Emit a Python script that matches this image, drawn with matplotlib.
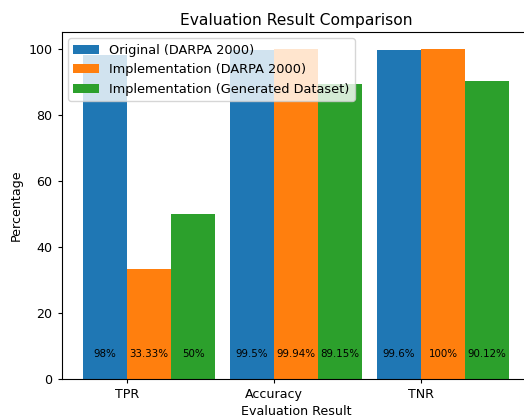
import matplotlib
matplotlib.use("Agg")
import matplotlib.pyplot as plt
import numpy as np

categories = ["TPR", "Accuracy", "TNR"]
series_names = ["Original (DARPA 2000)", "Implementation (DARPA 2000)", "Implementation (Generated Dataset)"]
original = [98, 99.5, 99.6]
impl_darpa = [33.33, 99.94, 100]
impl_gen = [50, 89.15, 90.12]
label_original = ["98%", "99.5%", "99.6%"]
label_darpa = ["33.33%", "99.94%", "100%"]
label_gen = ["50%", "89.15%", "90.12%"]

fig = plt.figure(figsize=(5.24, 4.2), dpi=100)
ax = fig.add_axes([61.6/524, 1-379/420, 469/524, (379-32)/420])

x = np.arange(len(categories))
w = 0.3
colors = ["#1f77b4", "#ff7f0e", "#2ca02c"]
data = [original, impl_darpa, impl_gen]
labels = [label_original, label_darpa, label_gen]
offsets = [-w, 0, w]
for d, lab, off, c, name in zip(data, labels, offsets, colors, series_names):
    ax.bar(x + off, d, w, align="edge", color=c, label=name)
    for xi, t in zip(x, lab):
        ax.text(xi + off + w/2, 7.6, t, ha="center", va="center", fontsize=7.4)

ax.set_xticks(x)
ax.set_xticklabels(categories)
ax.tick_params(labelsize=9.1, length=3.2)
ax.set_xlabel("Evaluation Result", fontsize=9.1, labelpad=3)
ax.set_ylabel("Percentage", fontsize=9.1)
ax.set_title("Evaluation Result Comparison", fontsize=11.2, pad=5)
ax.spines["right"].set_visible(False)
ax.legend(loc="upper left", fontsize=9.3)
fig.savefig("out.png", dpi=100)
